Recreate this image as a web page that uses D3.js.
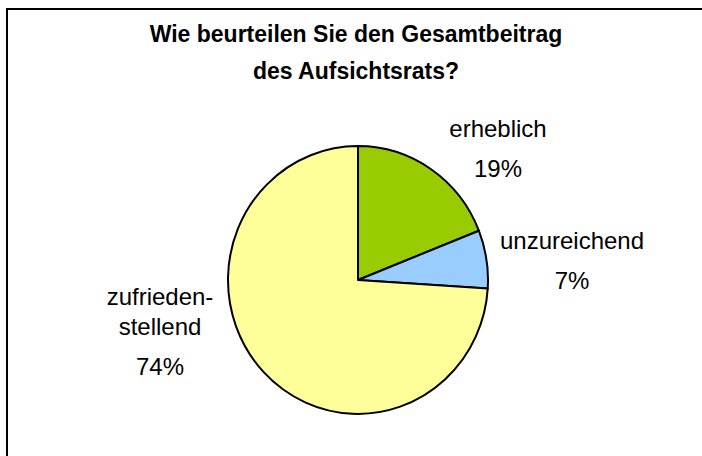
<!DOCTYPE html>
<html>
<head>
<meta charset="utf-8">
<script src="https://cdn.jsdelivr.net/npm/d3@7"></script>
<style>
  html, body { margin: 0; padding: 0; background: #fff; }
  svg { display: block; }
  text { font-family: "Liberation Sans", Arial, sans-serif; fill: #000; }
</style>
</head>
<body>
<svg id="chart" width="702" height="456"></svg>
<script>
// ---- data ----
const titleLines = ["Wie beurteilen Sie den Gesamtbeitrag", "des Aufsichtsrats?"];
const categories = ["erheblich", "unzureichend", "zufrieden-stellend"];
const labelLines = [["erheblich"], ["unzureichend"], ["zufrieden-", "stellend"]];
const values = [19, 7, 74];
const colors = ["#99CC00", "#99CCFF", "#FFFF99"];

// ---- layout (not data) ----
const W = 702, H = 456;
const cx = 358, cy = 280, R = 130, yStretch = 1.03;
const labelAnchors = [[498, 137], [572, 249], [160, 305]]; // first-line baseline
const lineGap = 30, pctGap = 40;

const svg = d3.select("#chart");

// frame (right and bottom edges lie outside the picture)
svg.append("rect")
  .attr("x", 7).attr("y", 9)
  .attr("width", W + 20).attr("height", H + 20)
  .attr("fill", "#fff").attr("stroke", "#000").attr("stroke-width", 2);

// title
const title = svg.append("text")
  .attr("text-anchor", "middle")
  .style("font-weight", "bold").style("font-size", "23px");
titleLines.forEach((t, i) => {
  title.append("tspan").attr("x", 356).attr("y", 42 + i * 37).text(t);
});

// pie
const pie = d3.pie().sort(null).value(d => d)(values);
const arc = d3.arc().innerRadius(0).outerRadius(R);
const g = svg.append("g")
  .attr("transform", `translate(${cx},${cy}) scale(1,${yStretch})`);
g.selectAll("path").data(pie).join("path")
  .attr("d", arc)
  .attr("fill", (d, i) => colors[i])
  .attr("stroke", "#000")
  .attr("stroke-width", 2)
  .attr("stroke-linejoin", "round")
  .attr("vector-effect", "non-scaling-stroke");

// labels
const fmt = v => d3.format("d")(v) + "%";
categories.forEach((c, i) => {
  const [lx, ly] = labelAnchors[i];
  const t = svg.append("text").attr("text-anchor", "middle").style("font-size", "24px");
  labelLines[i].forEach((line, j) => {
    t.append("tspan").attr("x", lx).attr("y", ly + j * lineGap).text(line);
  });
  t.append("tspan").attr("x", lx)
    .attr("y", ly + (labelLines[i].length - 1) * lineGap + pctGap)
    .text(fmt(values[i]));
});
</script>
</body>
</html>
